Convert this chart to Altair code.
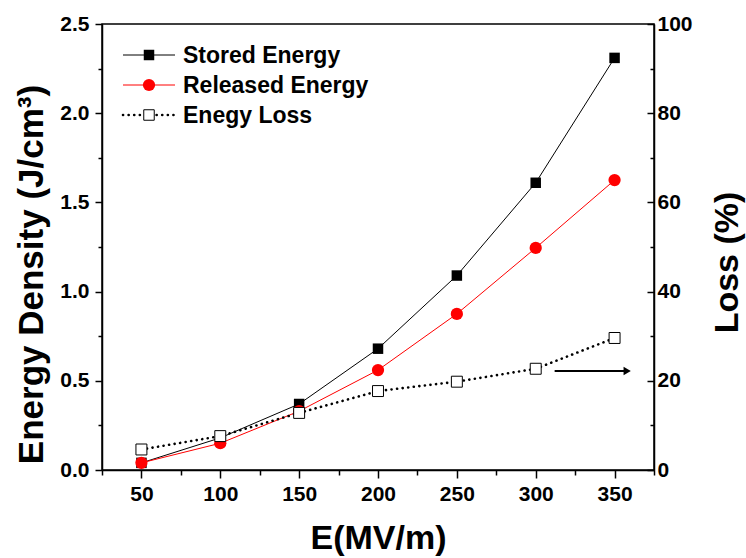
import altair as alt
import pandas as pd

# ---- data ----
field = [50, 100, 150, 200, 250, 300, 350]
stored = [0.04, 0.18, 0.37, 0.68, 1.09, 1.61, 2.31]
released = [0.04, 0.15, 0.33, 0.56, 0.875, 1.245, 1.625]
loss = [4.6, 7.6, 12.8, 17.7, 19.8, 22.7, 29.6]

x_ticks = list(range(25, 400, 25))
y_ticks = [i * 0.25 for i in range(11)]
loss_ticks = list(range(0, 110, 10))

arrow_x = [312, 358]
arrow_y = [22.2, 22.2]

legend_labels = ["Stored Energy", "Released Energy", "Enegy Loss"]

df = pd.DataFrame({"E": field, "stored": stored, "released": released, "loss": loss})
arrow_df = pd.DataFrame({"E": arrow_x, "y": arrow_y})

FONT = "Liberation Sans"

X_MAJOR = "abs(datum.value/50 - round(datum.value/50)) < 0.001"
x_scale = alt.Scale(domain=[25, 375], nice=False, zero=False)
x_axis = alt.Axis(
    title="E(MV/m)", values=x_ticks, labelOverlap=False,
    labelExpr=f"{X_MAJOR} ? datum.label : ''",
    tickSize={"condition": {"test": X_MAJOR, "value": 8}, "value": 5},
    labelPadding=5, titleY=78, titleBaseline="alphabetic", titleFontSize=34,
)
x_enc = alt.X("E:Q", scale=x_scale, axis=x_axis)

Y_MAJOR = "abs(datum.value*2 - round(datum.value*2)) < 0.001"
y_left_scale = alt.Scale(domain=[0, 2.5], nice=False, zero=False)
y_left_axis = alt.Axis(
    title="Energy Density (J/cm³)", values=y_ticks, format=".1f", labelOverlap=False,
    labelExpr=f"{Y_MAJOR} ? datum.label : ''",
    tickSize={"condition": {"test": Y_MAJOR, "value": 7}, "value": 4},
    labelPadding=6, titleAngle=270, titleBaseline="bottom", titleAlign="center",
    titleX=-53, titleY=250, titleFontSize=35,
)

base = alt.Chart(df)

stored_line = base.mark_line(color="black", strokeWidth=1).encode(
    x=x_enc, y=alt.Y("stored:Q", scale=y_left_scale, axis=y_left_axis))
stored_pts = base.mark_point(shape="square", filled=True, color="black", size=110, opacity=1).encode(
    x=x_enc, y="stored:Q")
released_line = base.mark_line(color="#ff0000", strokeWidth=1).encode(x=x_enc, y="released:Q")
released_pts = base.mark_point(shape="circle", filled=True, color="#ff0000", size=150, opacity=1).encode(
    x=x_enc, y="released:Q")

# manual legend (pixel positions inside the plot)
one = alt.Chart(pd.DataFrame({"k": [0]}))
leg_rows = [31, 61, 91]
leg_items = []
leg_items.append(one.mark_rule(color="black", strokeWidth=1).encode(
    x=alt.value(21), x2=alt.value(73), y=alt.value(leg_rows[0])))
leg_items.append(one.mark_point(shape="square", filled=True, color="black", size=110, opacity=1).encode(
    x=alt.value(47), y=alt.value(leg_rows[0])))
leg_items.append(one.mark_rule(color="#ff0000", strokeWidth=1).encode(
    x=alt.value(21), x2=alt.value(73), y=alt.value(leg_rows[1])))
leg_items.append(one.mark_point(shape="circle", filled=True, color="#ff0000", size=150, opacity=1).encode(
    x=alt.value(47), y=alt.value(leg_rows[1])))
leg_items.append(one.mark_rule(color="black", strokeWidth=2.6, strokeDash=[0.1, 5.5], strokeCap="round").encode(
    x=alt.value(21), x2=alt.value(73), y=alt.value(leg_rows[2])))
leg_items.append(one.mark_point(shape="square", filled=True, fill="white", stroke="black", strokeWidth=1,
                                size=110, opacity=1).encode(x=alt.value(47), y=alt.value(leg_rows[2])))
for lab, yy in zip(legend_labels, leg_rows):
    leg_items.append(one.mark_text(text=lab, font=FONT, fontWeight="bold", fontSize=23, align="left",
                                   baseline="middle", color="black").encode(x=alt.value(81), y=alt.value(yy + 1)))

left = alt.layer(stored_line, stored_pts, released_line, released_pts, *leg_items)

y_right_scale = alt.Scale(domain=[0, 100], nice=False, zero=False)
y_right_axis = alt.Axis(
    title="Loss (%)", orient="right", values=loss_ticks, labelOverlap=False,
    labelExpr="datum.value % 20 === 0 ? datum.label : ''",
    tickSize={"expr": "datum.value % 20 === 0 ? -7 : -4"},
    labelPadding=10, titleAngle=270, titleBaseline="bottom", titleAlign="center",
    titleX=90, titleY=238, titleFontSize=34,
)
loss_line = base.mark_line(color="black", strokeWidth=2.6, strokeDash=[0.1, 5.5], strokeCap="round").encode(
    x=x_enc, y=alt.Y("loss:Q", scale=y_right_scale, axis=y_right_axis))
loss_pts = base.mark_point(shape="square", filled=True, fill="white", stroke="black", strokeWidth=1,
                           size=120, opacity=1).encode(x=x_enc, y="loss:Q")
arrow_line = alt.Chart(arrow_df).mark_line(color="black", strokeWidth=2).encode(x=x_enc, y="y:Q")
arrow_head = alt.Chart(arrow_df.tail(1)).mark_point(shape="triangle-right", filled=True, color="black",
                                                     size=70, opacity=1).encode(x=x_enc, y="y:Q")

right = alt.layer(loss_line, loss_pts, arrow_line, arrow_head)

chart = alt.layer(left, right).resolve_scale(y="independent").properties(
    width=552, height=446,
    autosize=alt.AutoSizeParams(type="none"),
    padding={"left": 102, "top": 24, "right": 92, "bottom": 88},
    background="white",
).configure_view(stroke="black", strokeWidth=1.5).configure_axis(
    grid=False, domainColor="black", domainWidth=1.5, tickColor="black", tickWidth=1.5,
    labelFont=FONT, labelFontWeight="bold", labelFontSize=21, labelColor="black",
    titleFont=FONT, titleFontWeight="bold", titleColor="black",
)

chart.save("out.html", embed_options={"renderer": "svg", "actions": False})
